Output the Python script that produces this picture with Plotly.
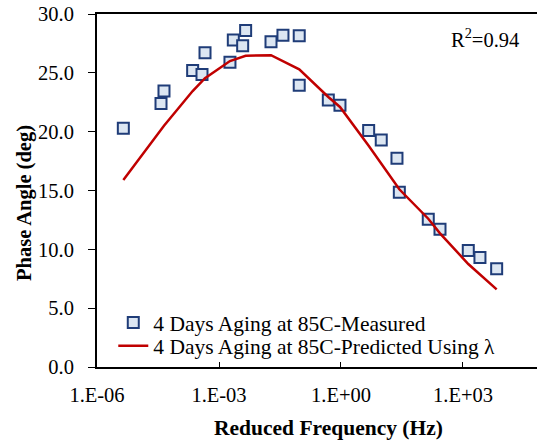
import plotly.graph_objects as go

# Measured data (reduced frequency in Hz, phase angle in deg)
meas_freq = [4.44e-6, 3.75e-5, 4.44e-5, 2.25e-4, 3.82e-4, 4.53e-4, 1.86e-3, 2.25e-3,
             3.82e-3, 4.52e-3, 1.9e-2, 3.74e-2, 9.4e-2, 9.4e-2, 0.488, 0.944, 4.79,
             9.77, 23.8, 27.2, 140, 272, 1349, 2612, 6730]
meas_phase = [20.3, 22.4, 23.45, 25.2, 24.85, 26.7, 25.9, 27.8, 27.3, 28.6, 27.65, 28.2,
              28.15, 23.95, 22.7, 22.25, 20.1, 19.3, 17.75, 14.85, 12.55, 11.7, 9.9, 9.3, 8.35]

# Predicted curve
pred_freq = [4.44e-6, 3.75e-5, 4.44e-5, 2.25e-4, 3.82e-4, 4.53e-4, 1.86e-3, 2.25e-3,
             3.82e-3, 4.52e-3, 1.9e-2, 3.74e-2, 9.4e-2, 0.488, 0.944, 4.79,
             9.77, 23.8, 27.2, 140, 272, 1349, 2612, 6730]
pred_phase = [15.9, 20.15, 20.5, 23.45, 24.35, 24.55, 26.0, 26.1, 26.4, 26.45, 26.5, 26.0,
              25.3, 22.95, 22.1, 18.8, 17.3, 15.4, 15.1, 12.6, 11.36, 8.75, 7.85, 6.6]

x_tickvals = [1e-6, 1e-3, 1e0, 1e3]
x_ticktext = ["1.E-06", "1.E-03", "1.E+00", "1.E+03"]

FONT = "Liberation Serif"

fig = go.Figure()
fig.add_trace(go.Scatter(
    x=meas_freq, y=meas_phase, mode="markers",
    name="4 Days Aging at 85C-Measured", legend="legend",
    marker=dict(symbol="square", size=11, color="#DCE6F2",
                line=dict(color="#1F3C78", width=2)),
))
fig.add_trace(go.Scatter(
    x=pred_freq, y=pred_phase, mode="lines",
    name="4 Days Aging at 85C-Predicted Using λ", legend="legend2",
    line=dict(color="#C00000", width=2.5),
))

leg_common = dict(xanchor="left", yanchor="middle", bgcolor="rgba(0,0,0,0)",
                  font=dict(size=21.5, family=FONT), borderwidth=0)

fig.update_layout(
    width=537, height=444,
    margin=dict(l=97, r=0, t=14, b=77),
    plot_bgcolor="white", paper_bgcolor="white",
    font=dict(family=FONT, size=20.5, color="black"),
    showlegend=True,
    legend=dict(x=0.037, y=(367 - 322.5) / 353, **leg_common),
    legend2=dict(x=0.037, y=(367 - 345.7) / 353, **leg_common),
    xaxis=dict(type="log", range=[-6, 4.82], tickvals=x_tickvals, ticktext=x_ticktext,
               ticks="inside", ticklen=5, tickwidth=1, tickcolor="black",
               tickfont=dict(family=FONT, size=20.5),
               showline=True, linecolor="black", linewidth=2, mirror=True,
               showgrid=False, zeroline=False, ticklabelstandoff=8),
    yaxis=dict(range=[0, 30], dtick=5, tickformat=".1f",
               ticks="outside", ticklen=7, tickwidth=1, tickcolor="black",
               tickfont=dict(family=FONT, size=20.5),
               showline=True, linecolor="black", linewidth=2,
               showgrid=False, zeroline=False, ticklabelstandoff=10),
    annotations=[
        dict(text="R<sup>2</sup>=0.94", xref="paper", yref="paper",
             x=0.964, y=0.932, xanchor="right", yanchor="middle",
             showarrow=False, font=dict(size=20.5, family=FONT)),
        dict(text="<b>Reduced Frequency (Hz)</b>", xref="paper", yref="paper",
             x=(328.5 - 97) / 440, y=(367 - 428) / 353, xanchor="center", yanchor="middle",
             showarrow=False, font=dict(size=21.5, family=FONT)),
        dict(text="<b>Phase Angle (deg)</b>", xref="paper", yref="paper",
             x=(24 - 97) / 440, y=(367 - 203) / 353, xanchor="center", yanchor="middle",
             textangle=-90, showarrow=False, font=dict(size=20.5, family=FONT)),
    ],
)

fig.write_html("out.html")
